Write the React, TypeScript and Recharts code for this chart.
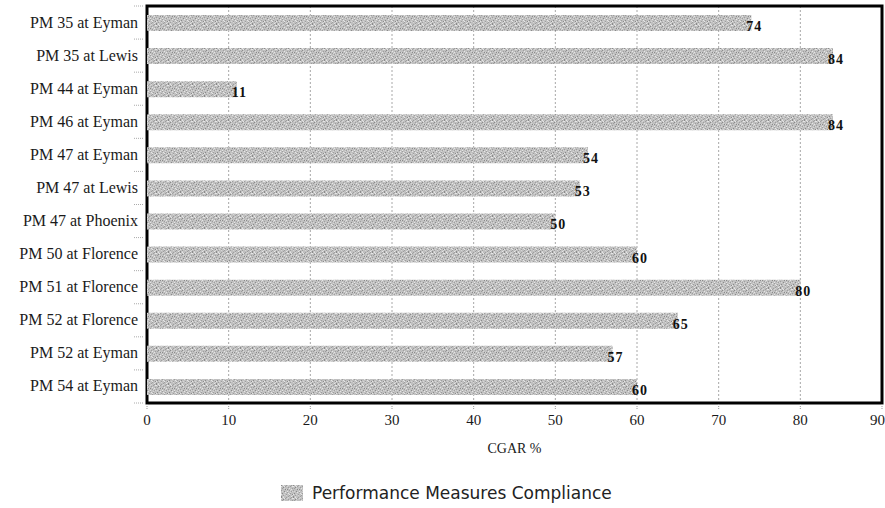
import React from 'react';
import { BarChart, Bar, XAxis, YAxis, CartesianGrid, LabelList, ReferenceArea } from 'recharts';

const categories = [
  'PM 35 at Eyman',
  'PM 35 at Lewis',
  'PM 44 at Eyman',
  'PM 46 at Eyman',
  'PM 47 at Eyman',
  'PM 47 at Lewis',
  'PM 47 at Phoenix',
  'PM 50 at Florence',
  'PM 51 at Florence',
  'PM 52 at Florence',
  'PM 52 at Eyman',
  'PM 54 at Eyman',
];
const complianceValues = [74, 84, 11, 84, 54, 53, 50, 60, 80, 65, 57, 60];
const xTicks = [0, 10, 20, 30, 40, 50, 60, 70, 80, 90];
const seriesName = 'Performance Measures Compliance';
const axisTitle = 'CGAR %';

const data = categories.map((name, i) => ({ name, value: complianceValues[i] }));

const W = 885;
const H = 508;
const PLOT_TOP = 6;
const PLOT_BOTTOM = 403;
const BAND = (PLOT_BOTTOM - PLOT_TOP) / categories.length;

const SERIF = '"Liberation Serif", "Times New Roman", serif';

// hand-placed grain for the bar texture (style only): dark and light specks
const darkSpecks = [
  '0,0', '5,0', '9,1', '2,2', '7,2', '11,3', '4,4', '0,5', '8,5', '3,6',
  '10,6', '6,7', '1,8', '9,8', '5,9', '11,9', '2,10', '7,11', '0,11', '4,1',
  '10,0', '6,4', '1,3', '8,10',
];
const lightSpecks = [
  '2,0', '7,0', '0,1', '6,1', '11,1', '3,3', '8,3', '5,4', '10,4', '1,6',
  '6,6', '11,6', '4,7', '9,7', '0,9', '3,9', '8,9', '5,10', '10,11', '2,11',
  '7,8', '11,10', '3,1', '9,5',
];

const PatternDefs = ({ id }: { id: string }) => (
  <defs>
    <pattern id={id} width={12} height={12} patternUnits="userSpaceOnUse">
      <rect x={0} y={0} width={12} height={12} fill="#c0c0c0" />
      {darkSpecks.map((p, i) => {
        const [x, y] = p.split(',').map(Number);
        return <rect key={'d' + i} x={x} y={y} width={1} height={1} fill={i % 3 === 0 ? '#8a8a8a' : '#9e9e9e'} />;
      })}
      {lightSpecks.map((p, i) => {
        const [x, y] = p.split(',').map(Number);
        return <rect key={'l' + i} x={x} y={y} width={1} height={1} fill={i % 2 === 0 ? '#e6e6e6' : '#d6d6d6'} />;
      })}
    </pattern>
  </defs>
);

const YTick = (props: any) => {
  const { y, payload, index } = props;
  const axisX = 147;
  return (
    <g>
      <line x1={axisX - 13} x2={axisX - 3} y1={y - BAND / 2} y2={y - BAND / 2} stroke="#aaa" strokeDasharray="1 1" />
      {index === categories.length - 1 && (
        <line x1={axisX - 13} x2={axisX - 3} y1={y + BAND / 2} y2={y + BAND / 2} stroke="#aaa" strokeDasharray="1 1" />
      )}
      <text x={138} y={y} dy={5} textAnchor="end" fontFamily={SERIF} fontSize={16} fill="#1a1a1a">
        {payload.value}
      </text>
    </g>
  );
};

const XTick = (props: any) => {
  const { x, y, payload, index } = props;
  const last = index === xTicks.length - 1;
  return (
    <text
      x={last ? x + 3 : x}
      y={y}
      dy={14}
      textAnchor={last ? 'end' : 'middle'}
      fontFamily={SERIF}
      fontSize={15}
      fill="#1a1a1a"
    >
      {payload.value}
    </text>
  );
};

const AxisTitle = (props: any) => {
  const vb = props.viewBox || {};
  return (
    <text x={vb.x + vb.width / 2} y={vb.y + 50} textAnchor="middle" fontFamily={SERIF} fontSize={14} fill="#1a1a1a">
      {axisTitle}
    </text>
  );
};

export default function App() {
  return (
    <div style={{ position: 'absolute', left: 0, top: 0, width: W, height: H, background: '#fff' }}>
      <BarChart
        width={W}
        height={H}
        data={data}
        layout="vertical"
        margin={{ top: PLOT_TOP, right: 3, left: 0, bottom: 0 }}
        barSize={16}
      >
        <PatternDefs id="stipple" />
        <CartesianGrid horizontal={false} stroke="#a8a8a8" strokeDasharray="2 2" />
        <XAxis
          type="number"
          domain={[0, 90]}
          ticks={xTicks}
          interval={0}
          height={H - PLOT_BOTTOM}
          axisLine={false}
          tickLine={{ stroke: '#999', strokeDasharray: '1 1' }}
          tickSize={6}
          tickMargin={2}
          tick={<XTick />}
          label={<AxisTitle />}
        />
        <YAxis
          type="category"
          dataKey="name"
          width={147}
          axisLine={false}
          tickLine={false}
          interval={0}
          tick={<YTick />}
        />
        <Bar dataKey="value" name={seriesName} fill="url(#stipple)" isAnimationActive={false}>
          <LabelList
            dataKey="value"
            position="right"
            offset={-5}
            fontFamily={SERIF}
            fontWeight="bold"
            fontSize={14}
            letterSpacing={1}
            fill="#111"
            dy={3}
          />
        </Bar>
        <ReferenceArea
          x1={0}
          x2={90}
          y1={categories[0]}
          y2={categories[categories.length - 1]}
          ifOverflow="visible"
          fill="none"
          fillOpacity={0}
          stroke="#000"
          strokeWidth={3}
        />
      </BarChart>
      <div
        style={{
          position: 'absolute',
          left: 281,
          top: 483,
          display: 'flex',
          alignItems: 'center',
          fontFamily: '"DejaVu Sans", sans-serif',
          fontSize: 17,
          color: '#222',
          whiteSpace: 'nowrap',
        }}
      >
        <svg width={22} height={16} style={{ marginRight: 9 }}>
          <PatternDefs id="stipple-legend" />
          <rect x={0} y={0} width={22} height={16} fill="url(#stipple-legend)" />
        </svg>
        <span>{seriesName}</span>
      </div>
    </div>
  );
}
